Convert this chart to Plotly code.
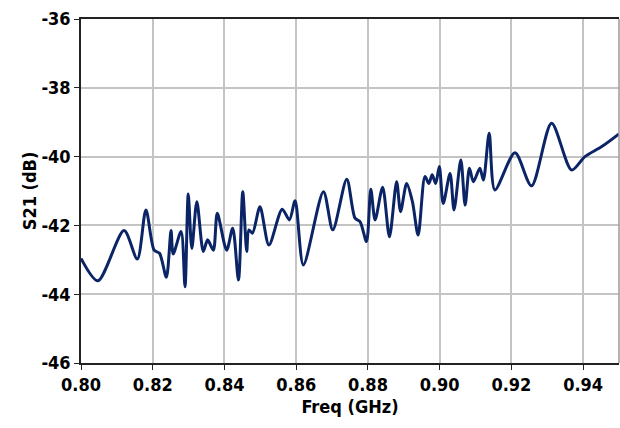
import plotly.graph_objects as go

freq_ghz = [0.8000, 0.8047, 0.8120, 0.8157, 0.8181, 0.8204, 0.8219, 0.8238, 0.8251, 0.8257,
            0.8279, 0.8290, 0.8299, 0.8309, 0.8323, 0.8341, 0.8353, 0.8369, 0.8380, 0.8406,
            0.8423, 0.8439, 0.8451, 0.8462, 0.8468, 0.8478, 0.8499, 0.8524, 0.8561, 0.8581,
            0.8597, 0.8620, 0.8676, 0.8702, 0.8741, 0.8764, 0.8778, 0.8796, 0.8808, 0.8820,
            0.8841, 0.8860, 0.8880, 0.8891, 0.8908, 0.8924, 0.8940, 0.8959, 0.8970, 0.8979,
            0.8989, 0.8999, 0.9010, 0.9029, 0.9040, 0.9059, 0.9071, 0.9083, 0.9094, 0.9112,
            0.9122, 0.9138, 0.9154, 0.9210, 0.9256, 0.9312, 0.9368, 0.9405, 0.9452, 0.9500]
s21_db = [-42.96, -43.61, -42.15, -42.98, -41.55, -42.72, -42.81, -43.51, -42.15, -42.83,
          -42.18, -43.78, -41.09, -42.67, -41.31, -42.76, -42.42, -42.72, -41.65, -42.72,
          -42.08, -43.59, -41.02, -42.76, -42.13, -42.23, -41.46, -42.57, -41.53, -41.84,
          -41.28, -43.15, -41.02, -42.13, -40.66, -41.79, -41.89, -42.47, -40.95, -41.84,
          -40.89, -42.33, -40.73, -41.60, -40.78, -41.31, -42.28, -40.58, -40.78, -40.53,
          -40.78, -40.29, -41.36, -40.49, -41.55, -40.10, -41.41, -40.34, -40.73, -40.34,
          -40.68, -39.32, -40.97, -39.89, -40.85, -39.03, -40.39, -40.00, -39.71, -39.34]

x_ticks = [0.80, 0.82, 0.84, 0.86, 0.88, 0.90, 0.92, 0.94]
x_tick_labels = ["0.80", "0.82", "0.84", "0.86", "0.88", "0.90", "0.92", "0.94"]
y_ticks = [-46, -44, -42, -40, -38, -36]
y_tick_labels = ["-46", "-44", "-42", "-40", "-38", "-36"]

FONT = "DejaVu Sans Condensed, Roboto, sans-serif"

fig = go.Figure()
fig.add_trace(go.Scatter(
    x=freq_ghz, y=s21_db, mode="lines",
    line=dict(color="#0b2466", width=3, shape="spline", smoothing=0.8),
    showlegend=False, hoverinfo="skip",
))

fig.update_layout(
    width=620, height=428,
    margin=dict(l=81, r=1, t=19, b=65),
    paper_bgcolor="white", plot_bgcolor="white",
    font=dict(family=FONT, color="black", size=18),
    xaxis=dict(
        range=[0.80, 0.95], tickvals=x_ticks, ticktext=x_tick_labels,
        showgrid=True, gridcolor="#c4c4c4", gridwidth=1.5,
        showline=True, linecolor="#222", linewidth=1.5, mirror=True,
        ticks="outside", ticklen=5, tickcolor="#222",
        tickfont=dict(family=FONT, size=18, color="black", weight="bold"),
        title=dict(text="<b>Freq (GHz)</b>", font=dict(family=FONT, size=18), standoff=6),
        zeroline=False, automargin=False,
    ),
    yaxis=dict(
        range=[-46, -36], tickvals=y_ticks, ticktext=y_tick_labels,
        showgrid=True, gridcolor="#c4c4c4", gridwidth=1.5,
        showline=True, linecolor="#222", linewidth=1.5,
        ticks="outside", ticklen=5, tickcolor="#222",
        tickfont=dict(family=FONT, size=18, color="black", weight="bold"),
        title=dict(text="<b>S21 (dB)</b>", font=dict(family=FONT, size=18), standoff=0),
        zeroline=False, automargin=False,
    ),
    shapes=[dict(type="line", xref="paper", yref="paper", x0=1, x1=1, y0=0, y1=1,
                 line=dict(color="#9a9a9a", width=1.5))],
)

fig.write_html(
    "out.html",
    config={"displayModeBar": False},
    post_script="document.body.style.margin='0';document.body.style.overflow='hidden';",
)
